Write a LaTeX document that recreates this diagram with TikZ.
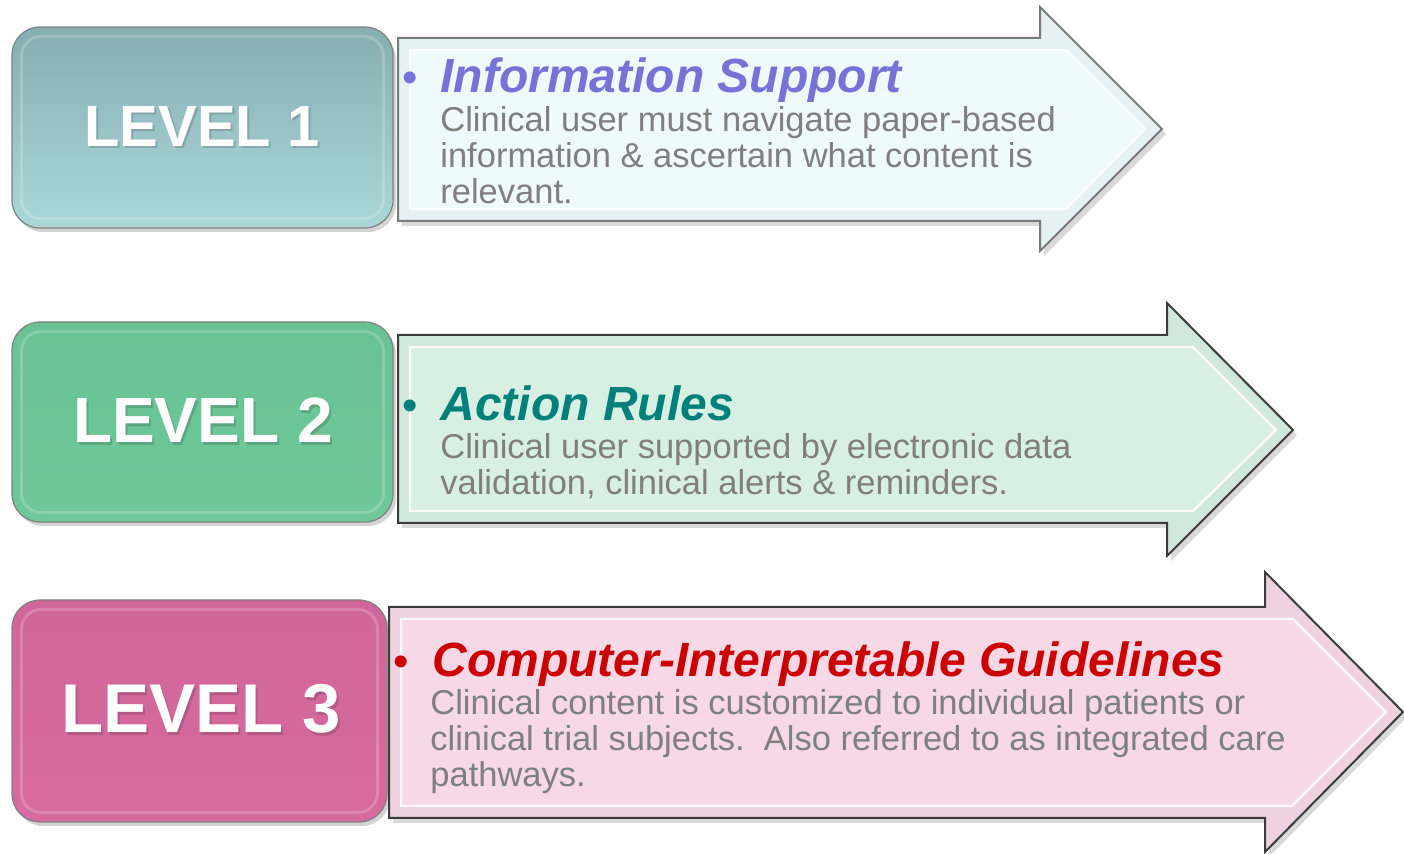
\documentclass[tikz,border=0pt]{standalone}
\usepackage{fontspec}
\setmainfont{Liberation Sans}
\usetikzlibrary{shadows}
\definecolor{lvAa}{HTML}{86AEB2}
\definecolor{lvAb}{HTML}{ABD7DB}
\definecolor{lvBa}{HTML}{68C293}
\definecolor{lvBb}{HTML}{6EC898}
\definecolor{lvCa}{HTML}{D06699}
\definecolor{lvCb}{HTML}{D76A9E}
\definecolor{arA}{HTML}{EEFAFC}
\definecolor{arB}{HTML}{D7F0E3}
\definecolor{arC}{HTML}{F6D8E6}
\definecolor{ttA}{HTML}{7474D8}
\definecolor{ttB}{HTML}{00807A}
\definecolor{ttC}{HTML}{CC0000}
\definecolor{bodygray}{HTML}{7F7F7F}
\definecolor{edgeA}{HTML}{7A7A7A}
\definecolor{edgeB}{HTML}{3C3C3C}
\tikzset{
  levelbox/.style={rounded corners=14pt, inner sep=0pt, draw=black!50, line width=0.6pt,
    drop shadow={opacity=0.35, shadow xshift=1.5pt, shadow yshift=-2pt}},
  rim/.style={rounded corners=10pt, draw=white, draw opacity=0.2, line width=1.5pt},
  leveltxt/.style={anchor=base, inner sep=0pt, text=white, font=\bfseries},
  levelshade/.style={anchor=base, inner sep=0pt, text=black, text opacity=0.15, font=\bfseries},
  arrowshape/.style={line width=1pt, line join=miter,
    drop shadow={opacity=0.3, shadow xshift=2pt, shadow yshift=-2.5pt}},
  bevel/.style={draw=white, draw opacity=0.85, line width=1.2pt},
  titletxt/.style={anchor=base west, inner sep=0pt, font=\fontsize{24}{26}\selectfont\bfseries\itshape},
  bullettxt/.style={anchor=base, inner sep=0pt, font=\fontsize{22}{24}\selectfont},
  bodytxt/.style={anchor=base west, inner sep=0pt, text=bodygray, font=\fontsize{17.25}{18}\selectfont}
}
\begin{document}
\begin{tikzpicture}[x=0.5pt,y=-0.5pt]
\useasboundingbox (0,0) rectangle (1404,854);

% ---------- Level boxes ----------
\node[levelbox, top color=lvAa, bottom color=lvAb, minimum width=190.5pt, minimum height=100.5pt] (L1) at (202.5,127.5) {};
\draw[rim] ([shift={(5pt,-5pt)}]L1.north west) rectangle ([shift={(-5pt,5pt)}]L1.south east);
\node[levelshade, font=\fontsize{29}{30}\selectfont\bfseries] (L1s) at (204,149) {LEVEL 1};
\node[leveltxt, font=\fontsize{29}{30}\selectfont\bfseries] (L1t) at (202,147) {LEVEL 1};

\node[levelbox, top color=lvBa, bottom color=lvBb, minimum width=190.5pt, minimum height=100pt] (L2) at (202.5,422) {};
\draw[rim] ([shift={(5pt,-5pt)}]L2.north west) rectangle ([shift={(-5pt,5pt)}]L2.south east);
\node[levelshade, font=\fontsize{32}{33}\selectfont\bfseries] (L2s) at (205,446) {LEVEL 2};
\node[leveltxt, font=\fontsize{32}{33}\selectfont\bfseries] (L2t) at (203,443) {LEVEL 2};

\node[levelbox, top color=lvCa, bottom color=lvCb, minimum width=187.5pt, minimum height=111pt] (L3) at (199.5,711) {};
\draw[rim] ([shift={(5pt,-5pt)}]L3.north west) rectangle ([shift={(-5pt,5pt)}]L3.south east);
\node[levelshade, font=\fontsize{34.5}{36}\selectfont\bfseries] (L3s) at (203,736) {LEVEL 3};
\node[leveltxt, font=\fontsize{34.5}{36}\selectfont\bfseries] (L3t) at (201,733) {LEVEL 3};

% ---------- Arrow 1 ----------
\filldraw[arrowshape, draw=edgeA, fill=arA!93!gray] (398,38) -- (1040,38) -- (1040,7) -- (1162,129) -- (1040,251) -- (1040,221) -- (398,221) -- cycle;
\filldraw[bevel, fill=arA] (410,50) -- (1066,50) -- (1145,129) -- (1066,209) -- (410,209) -- cycle;
\node[bullettxt, text=ttA] (A1b) at (410,93) {•};
\node[titletxt, text=ttA] (A1t) at (440,93) {Information Support};
\node[bodytxt] (A1l1) at (440,132) {Clinical user must navigate paper-based};
\node[bodytxt] (A1l2) at (440,168) {information \& ascertain what content is};
\node[bodytxt] (A1l3) at (440,204) {relevant.};

% ---------- Arrow 2 ----------
\filldraw[arrowshape, draw=edgeB, fill=arB!93!gray] (398,335) -- (1167,335) -- (1167,303) -- (1293,430) -- (1167,556) -- (1167,523) -- (398,523) -- cycle;
\filldraw[bevel, fill=arB] (410,347) -- (1193,347) -- (1276,430) -- (1193,511) -- (410,511) -- cycle;
\node[bullettxt, text=ttB] (A2b) at (410,421) {•};
\node[titletxt, text=ttB] (A2t) at (440,421) {Action Rules};
\node[bodytxt] (A2l1) at (440,459) {Clinical user supported by electronic data};
\node[bodytxt] (A2l2) at (440,495) {validation, clinical alerts \& reminders.};

% ---------- Arrow 3 ----------
\filldraw[arrowshape, draw=edgeB, fill=arC!93!gray] (389,607) -- (1265,607) -- (1265,572) -- (1403,712) -- (1265,852) -- (1265,818) -- (389,818) -- cycle;
\filldraw[bevel, fill=arC] (401,619) -- (1293,619) -- (1386,712) -- (1292,806) -- (401,806) -- cycle;
\node[bullettxt, text=ttC] (A3b) at (401,677) {•};
\node[titletxt, text=ttC] (A3t) at (432,677) {Computer-Interpretable Guidelines};
\node[bodytxt] (A3l1) at (430,715) {Clinical content is customized to individual patients or};
\node[bodytxt] (A3l2) at (430,751) {clinical trial subjects.\ \ Also referred to as integrated care};
\node[bodytxt] (A3l3) at (430,787) {pathways.};
\end{tikzpicture}
\end{document}
